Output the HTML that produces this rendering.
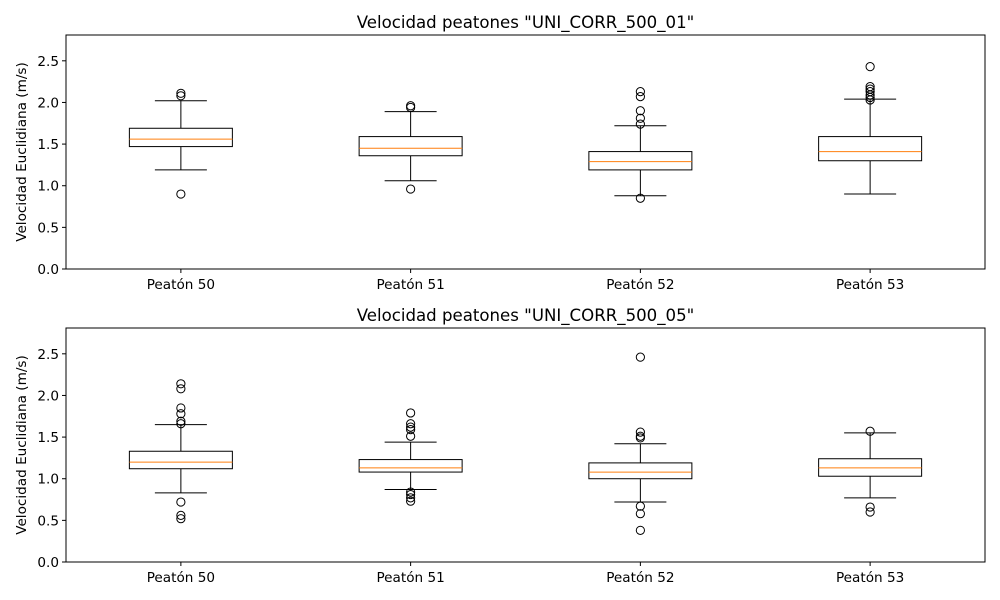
<!DOCTYPE html>
<html><head><meta charset="utf-8">
<style>
html,body{margin:0;padding:0;background:#fff;}
svg{display:block;font-family:"DejaVu Sans","Liberation Sans",sans-serif;}
</style></head>
<body>
<svg id="chart" width="1000" height="600" viewBox="0 0 1000 600" xmlns="http://www.w3.org/2000/svg"></svg>
<script>
const categories = ["Peatón 50","Peatón 51","Peatón 52","Peatón 53"];
const titles = ['Velocidad peatones "UNI_CORR_500_01"','Velocidad peatones "UNI_CORR_500_05"'];
const yTicks = [0.0,0.5,1.0,1.5,2.0,2.5];
// [whiskerLow, Q1, median, Q3, whiskerHigh]
const stats1 = [[1.19,1.47,1.56,1.69,2.02],[1.06,1.36,1.45,1.59,1.89],[0.88,1.19,1.29,1.41,1.72],[0.90,1.30,1.41,1.59,2.04]];
const fliers1 = [[2.11,2.08,0.90],[1.96,1.94,0.96],[2.13,2.07,1.90,1.81,1.74,0.85],[2.43,2.19,2.16,2.13,2.09,2.06,2.03]];
const stats2 = [[0.83,1.12,1.20,1.33,1.65],[0.87,1.08,1.13,1.23,1.44],[0.72,1.00,1.08,1.19,1.42],[0.77,1.03,1.13,1.24,1.55]];
const fliers2 = [[2.14,2.08,1.85,1.78,1.69,1.66,0.72,0.56,0.52],[1.79,1.66,1.62,1.59,1.51,0.84,0.81,0.77,0.73],[2.46,1.56,1.51,1.49,0.67,0.58,0.38],[1.57,0.66,0.60]];

const NS="http://www.w3.org/2000/svg";
const svg=document.getElementById('chart');
function mk(tag,attrs,parent){const e=document.createElementNS(NS,tag);for(const k in attrs)e.setAttribute(k,attrs[k]);(parent||svg).appendChild(e);return e;}

function drawPanel(top,title,stats,fliers,idx){
  const L=66,R=985,T=top,B=top+234,ymax=2.81;
  const g=mk('g',{});
  
  
  const y=v=>B-(v/ymax)*(B-T);
  const x=i=>L+(R-L)*(0.5+i)/categories.length;
  const bw=103;
  const t=mk('text',{x:(L+R)/2,y:T-7,'text-anchor':'middle','font-size':'16.6'},g);
  t.textContent=title;
  
  
  const yl=mk('text',{x:0,y:0,'text-anchor':'middle','font-size':'13.6',transform:`translate(26,${(T+B)/2}) rotate(-90)`},g);
  yl.textContent='Velocidad Euclidiana (m/s)';
  
  
  yTicks.forEach(v=>{
    const yy=y(v);
    mk('line',{x1:L-4,x2:L,y1:yy,y2:yy,stroke:'#000'},g);
    const tt=mk('text',{x:L-7,y:yy+5,'text-anchor':'end','font-size':'13.6'},g);
    tt.textContent=v.toFixed(1);
    
    
  });
  categories.forEach((c,i)=>{
    const cx=x(i),s=stats[i];
    mk('line',{x1:cx,x2:cx,y1:B,y2:B+4,stroke:'#000'},g);
    const tt=mk('text',{x:cx,y:B+20,'text-anchor':'middle','font-size':'13.6'},g);
    tt.textContent=c;
    
    
    const bg=mk('g',{},g);
    
    
    mk('line',{x1:cx,x2:cx,y1:y(s[0]),y2:y(s[1]),stroke:'#000'},bg);
    mk('line',{x1:cx,x2:cx,y1:y(s[3]),y2:y(s[4]),stroke:'#000'},bg);
    mk('line',{x1:cx-26,x2:cx+26,y1:y(s[0]),y2:y(s[0]),stroke:'#000'},bg);
    mk('line',{x1:cx-26,x2:cx+26,y1:y(s[4]),y2:y(s[4]),stroke:'#000'},bg);
    mk('rect',{x:cx-bw/2,y:y(s[3]),width:bw,height:y(s[1])-y(s[3]),fill:'none',stroke:'#000'},bg);
    mk('line',{x1:cx-bw/2,x2:cx+bw/2,y1:y(s[2]),y2:y(s[2]),stroke:'#ff7f0e'},bg);
    fliers[i].forEach(v=>{mk('circle',{cx:cx,cy:y(v),r:4.1,fill:'none',stroke:'#000'},bg);});
  });
  mk('rect',{x:L,y:T,width:R-L,height:B-T,fill:'none',stroke:'#000'},g);
}
drawPanel(35,titles[0],stats1,fliers1,0);
drawPanel(328,titles[1],stats2,fliers2,1);
</script>
</body></html>
